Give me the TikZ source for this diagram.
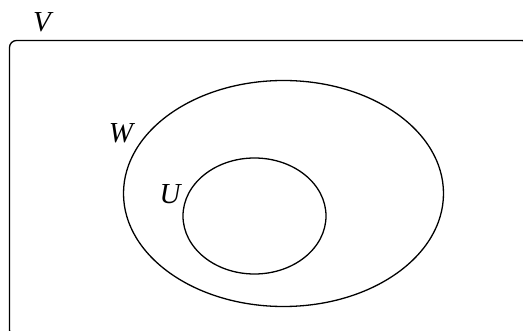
\documentclass[tikz,border=0pt]{standalone}
\usepackage{fontspec}
\setmainfont{Liberation Serif}
\begin{document}
\begin{tikzpicture}[x=1pt,y=-1pt,line width=1.3pt,
  lbl/.style={font=\fontsize{29}{32}\selectfont\itshape,inner sep=0pt}]
\useasboundingbox (0,0) rectangle (523,331);
\clip (0,0) rectangle (523,331);
\draw[rounded corners=7pt] (9.5,40.5) rectangle (529,337);
\draw (283.5,193.5) ellipse [x radius=160, y radius=113];
\draw (254.5,216) ellipse [x radius=71.5, y radius=58];
\node[lbl] (V) at (42,22) {V};
\node[lbl] (W) at (121,133) {W};
\node[lbl] (U) at (170,194) {U};
\end{tikzpicture}
\end{document}
